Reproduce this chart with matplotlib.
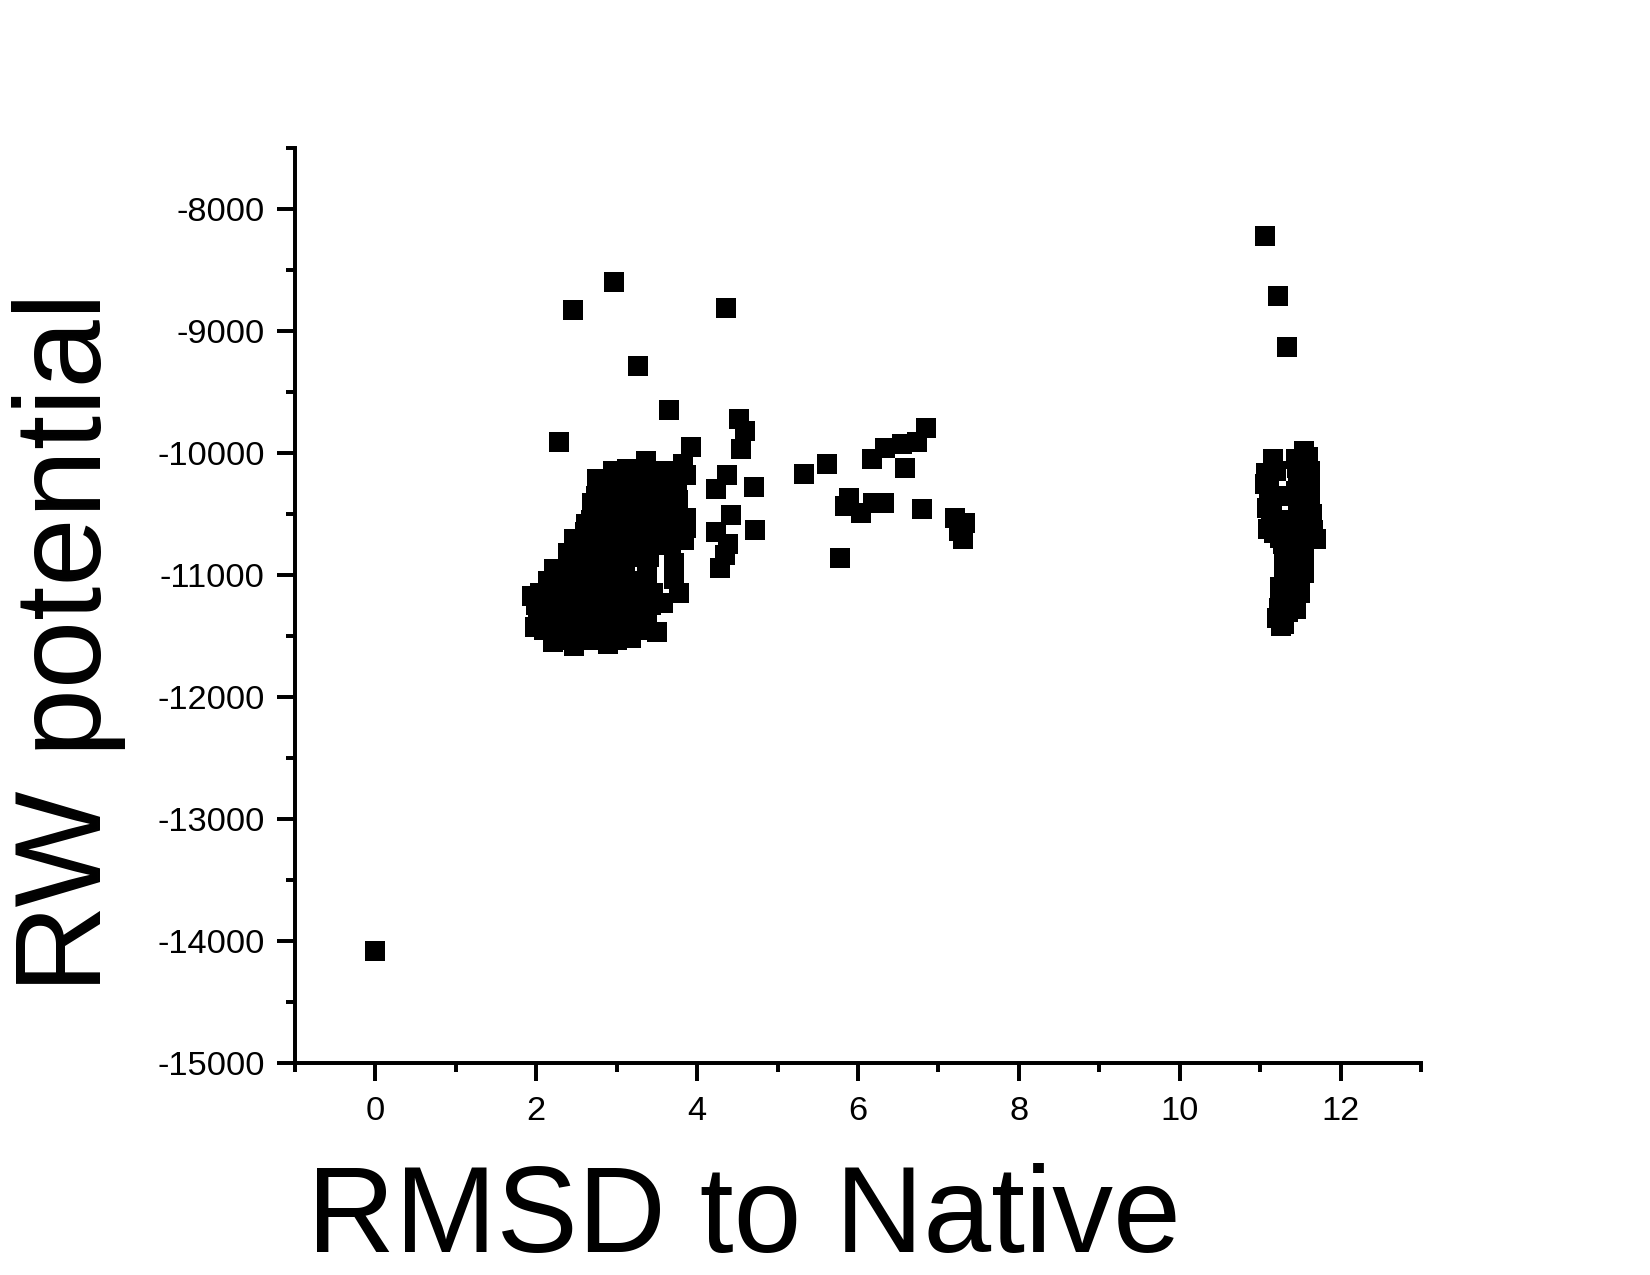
import matplotlib
matplotlib.use("Agg")
import matplotlib.pyplot as plt
from matplotlib.ticker import MultipleLocator

plt.rcParams['font.family'] = ['Liberation Sans', 'DejaVu Sans']
plt.rcParams['axes.unicode_minus'] = False

# native structure
native_rmsd = [0.0]
native_rw = [-14080]

# sparse decoys above / around the main cluster
outlier_rmsd = [2.96, 2.46, 4.36, 3.27, 3.65, 2.28]
outlier_rw = [-8600, -8830, -8815, -9285, -9650, -9910]

# edge of the dense cluster near RMSD 2-5
edge_rmsd = [4.52, 4.60, 4.55, 3.92, 3.82, 3.86, 3.37, 3.13, 2.75, 4.37,
             4.23, 4.71, 4.42, 4.72, 4.23, 4.38, 4.35, 4.28, 3.76, 3.86,
             3.84, 3.71, 3.71, 3.78, 3.58, 3.50, 3.18, 2.89, 2.47, 2.21,
             1.99, 1.95, 2.22, 2.40, 2.47, 2.62, 2.69, 3.86, 3.84, 3.68]
edge_rw = [-9725, -9821, -9971, -9949, -10094, -10184, -10066, -10134, -10216, -10181,
           -10298, -10279, -10511, -10634, -10647, -10748, -10836, -10944, -10388, -10530,
           -10715, -10898, -11034, -11144, -11226, -11471, -11520, -11566, -11580, -11553,
           -11425, -11171, -10953, -10817, -10707, -10584, -10407, -10612, -10715, -10750]

# body of the dense cluster
core_rmsd = [2.95, 3.15, 3.35, 3.55, 3.72,
             2.80, 3.00, 3.20, 3.40, 3.60, 3.75,
             2.74, 2.94, 3.14, 3.34, 3.54, 3.72,
             2.72, 2.92, 3.12, 3.32, 3.52, 3.70,
             2.68, 2.88, 3.08, 3.28, 3.48, 3.68,
             2.60, 2.80, 3.00, 3.20, 3.40, 3.62,
             2.52, 2.72, 2.92, 3.12, 3.32, 3.52,
             2.42, 2.62, 2.82, 3.02, 3.22, 3.40,
             2.30, 2.50, 2.70, 2.90, 3.10, 3.38,
             2.15, 2.35, 2.55, 2.75, 2.95, 3.15, 3.38,
             2.05, 2.25, 2.45, 2.65, 2.85, 3.05, 3.25, 3.45,
             2.00, 2.20, 2.40, 2.60, 2.80, 3.00, 3.20, 3.42,
             2.02, 2.22, 2.42, 2.62, 2.82, 3.02, 3.22, 3.38,
             2.10, 2.30, 2.50, 2.70, 2.90, 3.10, 3.28,
             2.35, 2.60, 2.80, 3.00]
core_rw = [-10150] * 5 + [-10250] * 6 + [-10350] * 6 + [-10450] * 6 + \
          [-10550] * 6 + [-10650] * 6 + [-10750] * 6 + [-10850] * 6 + \
          [-10950] * 6 + [-11050] * 7 + [-11150] * 8 + [-11250] * 8 + \
          [-11350] * 8 + [-11450] * 7 + [-11530] * 4

# decoys between RMSD 5 and 7.5
mid_rmsd = [5.33, 5.62, 5.78, 5.89, 5.84, 6.04, 6.19, 6.32, 6.17, 6.33,
            6.55, 6.73, 6.84, 6.58, 6.80, 7.20, 7.33, 7.26, 7.31]
mid_rw = [-10175, -10094, -10863, -10366, -10435, -10489, -10413, -10413, -10053, -9963,
          -9924, -9908, -9794, -10126, -10462, -10530, -10571, -10639, -10707]

# decoys near RMSD 11-12
far_rmsd = [11.06, 11.22, 11.33, 11.55, 11.16, 11.07, 11.46, 11.52, 11.11, 11.44,
            11.15, 11.55, 11.53, 11.13, 11.61, 11.69, 11.17, 11.42, 11.29, 11.50,
            11.38, 11.48, 11.34, 11.29, 11.42, 11.23, 11.26, 11.21, 11.60, 11.58,
            11.15, 11.38, 11.36, 11.32,
            11.20, 11.06, 11.22, 11.08, 11.22, 11.10,
            11.60, 11.45, 11.62, 11.47, 11.62, 11.47, 11.62, 11.47, 11.65, 11.50, 11.66,
            11.25, 11.55, 11.30, 11.55, 11.45, 11.30, 11.55, 11.25, 11.45, 11.25,
            11.50, 11.35, 11.45, 11.24, 11.30]
far_rw = [-8225, -8716, -9133, -9984, -10052, -10162, -10121, -10230, -10285, -10312,
          -10421, -10366, -10475, -10530, -10584, -10707, -10653, -10666, -10748, -10776,
          -10899, -11007, -11021, -11171, -11212, -11267, -11416, -11349, -10060, -10450,
          -10600, -10800, -11100, -11300,
          -10150, -10250, -10350, -10450, -10550, -10620,
          -10030, -10050, -10150, -10200, -10280, -10420, -10400, -10550, -10500, -10650, -10630,
          -10700, -10720, -10850, -10850, -10950, -10950, -10980, -11100, -11100, -11200,
          -11150, -11300, -11280, -11330, -11400]

fig = plt.figure(figsize=(11, 8.5), dpi=150)
ax = fig.add_axes([0.1788, 0.1663, 0.6824, 0.7176])

groups = [(native_rmsd, native_rw), (outlier_rmsd, outlier_rw), (edge_rmsd, edge_rw),
          (core_rmsd, core_rw), (mid_rmsd, mid_rw), (far_rmsd, far_rw)]
for gx, gy in groups:
    ax.scatter(gx, gy, marker='s', s=84, c='black', linewidths=0)

ax.set_xlim(-1, 13)
ax.set_ylim(-15000, -7500)
ax.xaxis.set_major_locator(MultipleLocator(2))
ax.xaxis.set_minor_locator(MultipleLocator(1))
ax.yaxis.set_major_locator(MultipleLocator(1000))
ax.yaxis.set_minor_locator(MultipleLocator(500))

for side in ['top', 'right']:
    ax.spines[side].set_visible(False)
for side in ['left', 'bottom']:
    ax.spines[side].set_linewidth(1.9)

ax.tick_params(which='major', direction='out', length=8.5, width=1.9,
               labelsize=16.5, pad=6)
ax.tick_params(axis='x', which='major', pad=7.5)
ax.tick_params(which='minor', direction='out', length=4.5, width=1.9)

fig.text(0.451, 0.018, 'RMSD to Native', fontsize=58.5, ha='center', va='baseline')
fig.text(0.007, 0.4957, 'RW potential', fontsize=59, rotation=90,
         ha='left', va='center')

fig.savefig('out.png', dpi=150, facecolor='white')
